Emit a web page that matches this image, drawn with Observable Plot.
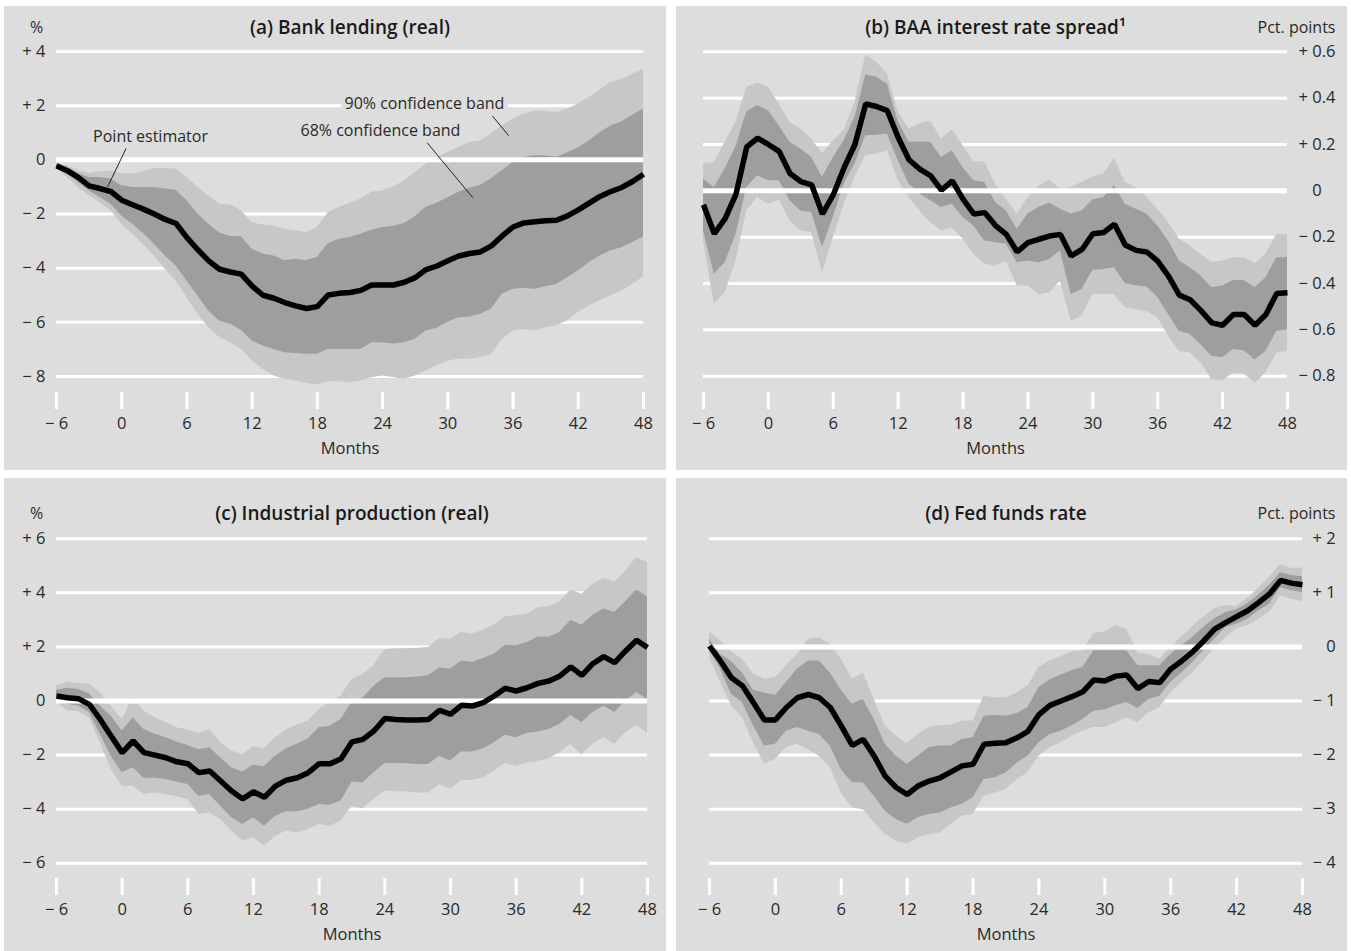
<!DOCTYPE html>
<html><head><meta charset="utf-8">
<script src="https://cdn.jsdelivr.net/npm/d3@7"></script>
<script src="https://cdn.jsdelivr.net/npm/@observablehq/plot@0.6"></script>
<style>
body{margin:0;background:#fff;}
#root{position:relative;width:1351px;height:951px;background:#fff;overflow:hidden;}
.panel{position:absolute;background:#dcdddc;}
.panel svg{display:block;overflow:visible;}
</style></head><body><div id="root"></div>
<script>
const FONT = '"Open Sans", "Noto Sans", sans-serif';
const BG = "#dcdddc", LIGHT = "#c6c7c6", DARK = "#9d9e9d", TXT = "#2a2a2a";

const months = d3.range(-6, 49);
const xTicks = [-6, 0, 6, 12, 18, 24, 30, 36, 42, 48];

// (a) Bank lending (real), %
const aEst  = [-0.22,-0.4,-0.65,-0.96,-1.06,-1.17,-1.49,-1.66,-1.82,-2.0,-2.2,-2.35,-2.87,-3.32,-3.73,-4.04,-4.14,-4.22,-4.66,-5.0,-5.11,-5.27,-5.39,-5.49,-5.42,-4.99,-4.93,-4.9,-4.82,-4.62,-4.62,-4.62,-4.52,-4.35,-4.05,-3.92,-3.73,-3.55,-3.46,-3.4,-3.18,-2.81,-2.48,-2.33,-2.29,-2.25,-2.23,-2.07,-1.85,-1.6,-1.35,-1.17,-1.02,-0.8,-0.53];
const aHi68 = [-0.16,-0.28,-0.5,-0.65,-0.65,-0.71,-0.96,-1.02,-1.02,-1.02,-1.08,-1.12,-1.51,-2.0,-2.38,-2.7,-2.83,-2.84,-3.3,-3.48,-3.55,-3.73,-3.67,-3.73,-3.6,-3.1,-2.93,-2.87,-2.75,-2.6,-2.5,-2.45,-2.35,-2.1,-1.75,-1.6,-1.4,-1.2,-1.05,-0.95,-0.7,-0.4,-0.1,0.1,0.15,0.15,0.1,0.25,0.45,0.7,1.0,1.25,1.4,1.65,1.88];
const aHi90 = [-0.16,-0.22,-0.4,-0.5,-0.44,-0.4,-0.5,-0.53,-0.43,-0.32,-0.32,-0.34,-0.63,-1.02,-1.33,-1.64,-1.66,-1.88,-2.32,-2.41,-2.44,-2.56,-2.62,-2.68,-2.5,-1.95,-1.76,-1.6,-1.45,-1.2,-1.15,-1.0,-0.78,-0.47,-0.16,0.09,0.27,0.46,0.64,0.7,0.95,1.26,1.5,1.69,1.79,1.79,1.75,1.87,2.06,2.3,2.57,2.86,2.98,3.16,3.35];
const aLo68 = [-0.28,-0.53,-0.84,-1.15,-1.39,-1.64,-2.07,-2.38,-2.72,-3.12,-3.55,-3.92,-4.47,-5.02,-5.58,-5.95,-6.07,-6.29,-6.69,-6.87,-7.0,-7.12,-7.15,-7.18,-7.18,-7.0,-7.0,-7.0,-7.0,-6.75,-6.75,-6.8,-6.75,-6.62,-6.32,-6.22,-6.0,-5.83,-5.8,-5.7,-5.52,-4.96,-4.78,-4.74,-4.78,-4.69,-4.6,-4.35,-4.1,-3.8,-3.55,-3.36,-3.25,-3.05,-2.85];
const aLo90 = [-0.34,-0.65,-1.02,-1.33,-1.58,-1.88,-2.38,-2.75,-3.12,-3.55,-4.04,-4.47,-5.08,-5.7,-6.19,-6.56,-6.75,-7.0,-7.43,-7.73,-7.98,-8.1,-8.17,-8.26,-8.3,-8.2,-8.2,-8.22,-8.17,-8.05,-7.98,-8.04,-8.1,-7.98,-7.8,-7.6,-7.43,-7.36,-7.36,-7.3,-7.18,-6.63,-6.32,-6.26,-6.32,-6.2,-6.13,-5.95,-5.64,-5.4,-5.2,-5.02,-4.84,-4.6,-4.32];

// (b) BAA interest rate spread, pct. points
const bEst  = [-0.06,-0.185,-0.12,-0.015,0.19,0.227,0.2,0.17,0.075,0.04,0.026,-0.1,-0.017,0.1,0.2,0.375,0.364,0.346,0.23,0.134,0.094,0.065,0.003,0.043,-0.036,-0.1,-0.094,-0.15,-0.188,-0.263,-0.224,-0.209,-0.195,-0.188,-0.281,-0.253,-0.185,-0.18,-0.144,-0.234,-0.257,-0.264,-0.303,-0.368,-0.45,-0.47,-0.517,-0.57,-0.58,-0.534,-0.534,-0.58,-0.534,-0.443,-0.44];
const bHi68 = [0.05,0.014,0.094,0.19,0.34,0.368,0.346,0.28,0.21,0.18,0.144,0.058,0.144,0.216,0.317,0.5,0.49,0.46,0.3,0.21,0.21,0.21,0.144,0.173,0.1,0.043,0.036,-0.05,-0.087,-0.166,-0.1,-0.072,-0.053,-0.079,-0.1,-0.087,-0.04,-0.029,0.022,-0.058,-0.079,-0.1,-0.152,-0.216,-0.303,-0.332,-0.368,-0.418,-0.411,-0.387,-0.387,-0.418,-0.375,-0.289,-0.289];
const bHi90 = [0.118,0.123,0.209,0.296,0.447,0.465,0.447,0.375,0.296,0.267,0.224,0.159,0.216,0.26,0.382,0.584,0.556,0.505,0.339,0.267,0.289,0.3,0.224,0.263,0.195,0.123,0.126,0.03,-0.036,-0.1,-0.03,0.02,0.046,0.007,0.014,0.036,0.06,0.072,0.141,0.036,0.014,-0.029,-0.079,-0.137,-0.209,-0.238,-0.274,-0.31,-0.303,-0.289,-0.289,-0.315,-0.274,-0.188,-0.19];
const bLo68 = [-0.173,-0.36,-0.31,-0.188,0.014,0.065,0.043,0.043,-0.043,-0.087,-0.094,-0.245,-0.115,0.029,0.115,0.238,0.24,0.245,0.13,0.029,-0.014,-0.043,-0.072,-0.058,-0.115,-0.152,-0.216,-0.224,-0.23,-0.31,-0.303,-0.31,-0.296,-0.26,-0.448,-0.426,-0.343,-0.339,-0.332,-0.4,-0.41,-0.415,-0.46,-0.534,-0.606,-0.62,-0.664,-0.714,-0.72,-0.685,-0.69,-0.73,-0.693,-0.606,-0.6];
const bLo90 = [-0.217,-0.49,-0.44,-0.303,-0.087,-0.029,-0.058,-0.04,-0.13,-0.173,-0.18,-0.354,-0.202,-0.058,0.058,0.152,0.159,0.173,0.043,-0.029,-0.087,-0.137,-0.173,-0.159,-0.209,-0.274,-0.317,-0.325,-0.303,-0.411,-0.411,-0.45,-0.44,-0.39,-0.563,-0.541,-0.447,-0.447,-0.447,-0.505,-0.512,-0.522,-0.548,-0.628,-0.693,-0.7,-0.743,-0.815,-0.822,-0.786,-0.79,-0.83,-0.786,-0.7,-0.693];

// (c) Industrial production (real), %
const cEst  = [0.185,0.123,0.086,-0.123,-0.68,-1.3,-1.91,-1.48,-1.91,-2.0,-2.1,-2.25,-2.32,-2.65,-2.59,-2.96,-3.33,-3.62,-3.36,-3.56,-3.15,-2.93,-2.84,-2.65,-2.32,-2.32,-2.14,-1.51,-1.42,-1.11,-0.65,-0.68,-0.7,-0.7,-0.68,-0.35,-0.49,-0.16,-0.185,-0.06,0.185,0.47,0.37,0.49,0.65,0.74,0.926,1.26,0.95,1.38,1.64,1.42,1.85,2.25,1.98];
const cHi68 = [0.395,0.47,0.43,0.27,-0.19,-0.56,-1.11,-0.62,-1.05,-1.23,-1.36,-1.52,-1.65,-1.8,-1.73,-2.1,-2.47,-2.63,-2.38,-2.43,-2.04,-1.77,-1.6,-1.4,-0.99,-0.93,-0.68,-0.05,0.1,0.55,0.86,0.86,0.86,0.89,0.93,1.23,1.17,1.48,1.42,1.57,1.73,2.06,2.04,2.16,2.37,2.37,2.53,2.99,2.8,3.17,3.4,3.27,3.67,4.11,3.86];
const cHi90 = [0.556,0.7,0.654,0.617,0.31,-0.185,-0.68,0.123,-0.37,-0.617,-0.8,-0.99,-1.07,-1.2,-1.05,-1.54,-1.85,-1.98,-1.69,-1.77,-1.36,-1.07,-0.89,-0.74,-0.31,-0.03,0.185,0.8,0.99,1.3,1.9,1.93,1.93,1.95,1.98,2.31,2.28,2.53,2.47,2.63,2.81,3.13,3.15,3.21,3.46,3.5,3.67,4.11,3.95,4.32,4.54,4.4,4.81,5.3,5.12];
const cLo68 = [0.06,-0.12,-0.185,-0.43,-1.23,-2.04,-2.65,-2.47,-2.86,-2.86,-2.9,-3.0,-3.09,-3.52,-3.46,-3.89,-4.32,-4.57,-4.32,-4.63,-4.26,-4.1,-4.1,-4.0,-3.83,-3.86,-3.7,-3.0,-3.02,-2.65,-2.31,-2.31,-2.32,-2.35,-2.35,-2.04,-2.22,-1.89,-1.89,-1.77,-1.54,-1.27,-1.36,-1.2,-1.15,-1.05,-0.86,-0.53,-0.8,-0.43,-0.19,-0.43,0.0,0.31,0.06];
const cLo90 = [-0.06,-0.37,-0.4,-0.617,-1.54,-2.53,-3.15,-3.15,-3.46,-3.4,-3.46,-3.54,-3.64,-4.2,-4.14,-4.38,-4.81,-5.19,-5.06,-5.37,-5.0,-4.81,-4.88,-4.75,-4.57,-4.63,-4.44,-3.9,-3.99,-3.64,-3.33,-3.36,-3.37,-3.4,-3.4,-3.09,-3.27,-2.94,-2.94,-2.84,-2.59,-2.31,-2.43,-2.28,-2.25,-2.14,-1.91,-1.6,-2.0,-1.6,-1.36,-1.6,-1.17,-0.9,-1.2];

// (d) Fed funds rate, pct. points
const dEst  = [0.02,-0.26,-0.57,-0.72,-1.03,-1.35,-1.35,-1.12,-0.94,-0.88,-0.94,-1.12,-1.46,-1.82,-1.71,-2.02,-2.39,-2.6,-2.73,-2.57,-2.48,-2.42,-2.31,-2.2,-2.17,-1.8,-1.78,-1.77,-1.68,-1.56,-1.25,-1.08,-1.0,-0.92,-0.83,-0.61,-0.63,-0.54,-0.52,-0.77,-0.64,-0.66,-0.41,-0.26,-0.09,0.11,0.33,0.45,0.56,0.67,0.82,0.98,1.23,1.18,1.15];
const dHi68 = [0.14,-0.14,-0.27,-0.48,-0.8,-0.85,-0.9,-0.66,-0.41,-0.26,-0.26,-0.48,-0.8,-1.06,-0.97,-1.34,-1.8,-2.02,-2.17,-2.02,-1.86,-1.83,-1.83,-1.71,-1.68,-1.28,-1.27,-1.28,-1.23,-1.12,-0.75,-0.61,-0.52,-0.44,-0.38,-0.07,-0.07,-0.07,-0.07,-0.35,-0.35,-0.35,-0.14,0.02,0.18,0.36,0.52,0.63,0.69,0.8,0.96,1.14,1.37,1.32,1.3];
const dHi90 = [0.28,0.11,-0.09,-0.23,-0.5,-0.6,-0.57,-0.35,-0.14,0.14,0.17,0.05,-0.23,-0.6,-0.48,-0.97,-1.46,-1.65,-1.79,-1.62,-1.49,-1.46,-1.45,-1.37,-1.37,-0.91,-0.94,-0.94,-0.85,-0.72,-0.38,-0.26,-0.18,-0.09,-0.07,0.25,0.28,0.39,0.33,-0.12,-0.14,-0.23,0.0,0.18,0.38,0.55,0.7,0.77,0.75,0.9,1.08,1.29,1.52,1.45,1.46];
const dLo68 = [-0.07,-0.41,-0.88,-1.03,-1.46,-1.83,-1.8,-1.56,-1.49,-1.56,-1.62,-1.83,-2.27,-2.51,-2.51,-2.76,-3.04,-3.19,-3.28,-3.16,-3.1,-3.07,-2.98,-2.91,-2.79,-2.45,-2.42,-2.33,-2.15,-2.02,-1.77,-1.62,-1.56,-1.46,-1.34,-1.19,-1.16,-1.09,-1.03,-1.14,-0.97,-0.91,-0.66,-0.48,-0.29,-0.07,0.14,0.36,0.42,0.51,0.67,0.79,1.1,1.04,1.0];
const dLo90 = [-0.2,-0.66,-1.09,-1.31,-1.77,-2.17,-2.08,-1.86,-1.8,-1.9,-2.02,-2.23,-2.7,-2.98,-3.01,-3.25,-3.47,-3.59,-3.65,-3.53,-3.47,-3.44,-3.28,-3.13,-3.1,-2.76,-2.7,-2.64,-2.45,-2.33,-2.02,-1.86,-1.77,-1.65,-1.56,-1.49,-1.49,-1.4,-1.31,-1.4,-1.22,-1.12,-0.85,-0.66,-0.48,-0.26,-0.03,0.17,0.33,0.39,0.51,0.64,0.94,0.88,0.84];

// y-axis ticks
const aTicks = [4, 2, 0, -2, -4, -6, -8];
const bTicks = [0.6, 0.4, 0.2, 0, -0.2, -0.4, -0.6, -0.8];
const cTicks = [6, 4, 2, 0, -2, -4, -6];
const dTicks = [2, 1, 0, -1, -2, -3, -4];

// annotations in panel (a) (months, value)
const annoLabels = [
  {text: "Point estimator", m: 2.65, v: 0.85},
  {text: "68% confidence band", m: 23.8, v: 1.07},
  {text: "90% confidence band", m: 27.85, v: 2.07}
];
const annoLinks = [
  {m1: 0.4, v1: 0.42, m2: -1.3, v2: -1.0},
  {m1: 28.1, v1: 0.63, m2: 32.3, v2: -1.4},
  {m1: 34.1, v1: 1.62, m2: 35.6, v2: 0.89}
];

const fmtX = v => v < 0 ? "\u2212 " + Math.abs(v) : String(v);
const fmtYLeft = v => v === 0 ? "0" : (v > 0 ? "+ " : "\u2212 ") + Math.abs(v);
const fmtYRight = v => v === 0 ? "\u2007 0" : (v > 0 ? "+ " : "\u2212 ") + Math.abs(v);

const panels = [
  {title: "(a) Bank lending (real)", unit: "%", side: "left", est: aEst, hi68: aHi68, hi90: aHi90, lo68: aLo68, lo90: aLo90,
   ticks: aTicks, dom: [-8, 4], left: 4, top: 6, w: 662, h: 464, ml: 52, mr: 23, yTop: 45, yBot: 370, fb: 386,
   pad: 11, titleY: 21, unitX: 32, monthsY: 442, anno: true},
  {title: "(b) BAA interest rate spread\u00b9", unit: "Pct. points", side: "right", est: bEst, hi68: bHi68, hi90: bHi90, lo68: bLo68, lo90: bLo90,
   ticks: bTicks, dom: [-0.8, 0.6], left: 676, top: 6, w: 671, h: 464, ml: 27, mr: 60, yTop: 45.3, yBot: 369.7, fb: 386,
   pad: 11, titleY: 21, unitX: 659, monthsY: 442},
  {title: "(c) Industrial production (real)", unit: "%", side: "left", est: cEst, hi68: cHi68, hi90: cHi90, lo68: cLo68, lo90: cLo90,
   ticks: cTicks, dom: [-6, 6], left: 4, top: 478, w: 662, h: 473, ml: 52, mr: 19, yTop: 60.3, yBot: 384.7, fb: 400,
   pad: 11, titleY: 35, unitX: 32, monthsY: 456},
  {title: "(d) Fed funds rate", unit: "Pct. points", side: "right", est: dEst, hi68: dHi68, hi90: dHi90, lo68: dLo68, lo90: dLo90,
   ticks: dTicks, dom: [-4, 2], left: 676, top: 478, w: 671, h: 473, ml: 33, mr: 45, yTop: 60.3, yBot: 384.7, fb: 400,
   pad: 10, titleY: 35, unitX: 659, monthsY: 456}
];

const root = document.getElementById("root");
for (const p of panels) {
  const data = months.map((m, i) => ({m, est: p.est[i], hi68: p.hi68[i], hi90: p.hi90[i], lo68: p.lo68[i], lo90: p.lo90[i]}));
  const right = p.side === "right";
  const marks = [
    Plot.ruleY(p.ticks.filter(v => v !== 0), {y: d => d, stroke: "white", strokeWidth: 3}),
    Plot.areaY(data, {x: "m", y1: "lo90", y2: "hi90", fill: LIGHT}),
    Plot.areaY(data, {x: "m", y1: "lo68", y2: "hi68", fill: DARK}),
    Plot.ruleY([0], {stroke: "white", strokeWidth: 5}),
    Plot.lineY(data, {x: "m", y: "est", stroke: "black", strokeWidth: 5.5, strokeLinejoin: "miter", strokeLinecap: "butt"}),
    Plot.axisX({ticks: xTicks, tickFormat: fmtX, tickSize: 17, tickPadding: 8, stroke: "white", strokeWidth: 3, fill: TXT, fontSize: 16.5, label: null}),
    Plot.axisY({ticks: p.ticks, tickFormat: right ? fmtYRight : fmtYLeft, anchor: right ? "right" : "left", tickSize: 0, tickPadding: p.pad, fill: TXT, fontSize: 16.5, label: null}),
    Plot.text([p.title], {frameAnchor: "top", lineAnchor: "middle", dy: p.titleY - p.yTop, fontSize: 19, fontWeight: 600, fill: "#1a1a1a"}),
    Plot.text([p.unit], right
      ? {frameAnchor: "top-right", textAnchor: "end", lineAnchor: "middle", dx: p.unitX - (p.w - p.mr), dy: p.titleY - p.yTop, fontSize: 16, fill: TXT}
      : {frameAnchor: "top-left", textAnchor: "middle", lineAnchor: "middle", dx: p.unitX - p.ml, dy: p.titleY - p.yTop, fontSize: 16, fill: TXT}),
    Plot.text(["Months"], {frameAnchor: "bottom", lineAnchor: "middle", dy: p.monthsY - p.fb, fontSize: 16.5, fill: TXT})
  ];
  if (p.anno) {
    marks.push(Plot.link(annoLinks, {x1: "m1", y1: "v1", x2: "m2", y2: "v2", stroke: "#222", strokeWidth: 1}));
    marks.push(Plot.text(annoLabels, {x: "m", y: "v", text: "text", fontSize: 16, fill: TXT, stroke: BG, strokeWidth: 10, paintOrder: "stroke", strokeLinejoin: "round"}));
  }
  const chart = Plot.plot({
    width: p.w, height: p.h,
    marginLeft: p.ml, marginRight: p.mr, marginTop: p.yTop, marginBottom: p.h - p.fb,
    style: {background: "transparent", fontFamily: FONT, fontSize: "16px", color: TXT},
    x: {domain: [-6, 48]},
    y: {domain: p.dom, range: [p.yBot, p.yTop]},
    marks
  });
  const div = document.createElement("div");
  div.className = "panel";
  Object.assign(div.style, {left: p.left + "px", top: p.top + "px", width: p.w + "px", height: p.h + "px"});
  div.appendChild(chart);
  root.appendChild(div);
}
</script>
</body></html>
